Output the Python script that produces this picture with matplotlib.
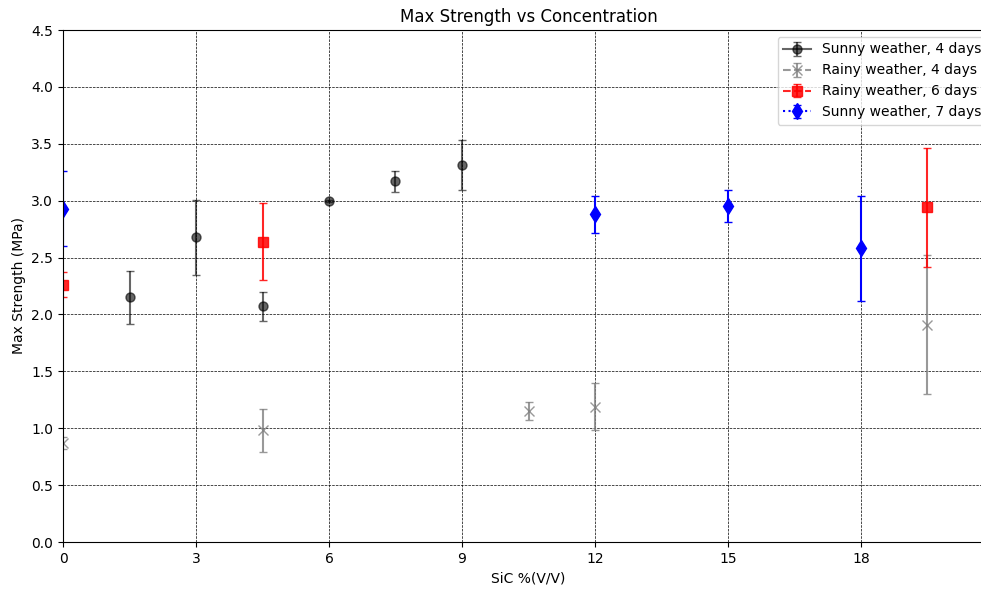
import matplotlib
matplotlib.use("Agg")
import matplotlib.pyplot as plt

# Sunny weather, 4 days
x_s4 = [1.5, 3, 4.5, 6, 7.5, 9]
y_s4 = [2.15, 2.68, 2.07, 3.00, 3.17, 3.31]
e_s4 = [0.23, 0.33, 0.13, 0.01, 0.09, 0.22]

# Rainy weather, 4 days
x_r4 = [0, 4.5, 10.5, 12, 19.5]
y_r4 = [0.87, 0.98, 1.15, 1.19, 1.91]
e_r4 = [0.05, 0.19, 0.08, 0.21, 0.61]

# Rainy weather, 6 days
x_r6 = [0, 4.5, 19.5]
y_r6 = [2.26, 2.64, 2.94]
e_r6 = [0.11, 0.34, 0.52]

# Sunny weather, 7 days
x_s7 = [0, 12, 15, 18]
y_s7 = [2.93, 2.88, 2.95, 2.58]
e_s7 = [0.33, 0.16, 0.14, 0.46]

series = [
    (x_s4, y_s4, e_s4, "Sunny weather, 4 days", dict(fmt="o-", color="black", alpha=0.6, markersize=6.5)),
    (x_r4, y_r4, e_r4, "Rainy weather, 4 days", dict(fmt="x--", color="gray", alpha=0.8, markersize=6.5)),
    (x_r6, y_r6, e_r6, "Rainy weather, 6 days", dict(fmt="s--", color="red", alpha=0.85, markersize=6.5)),
    (x_s7, y_s7, e_s7, "Sunny weather, 7 days", dict(fmt="d:", color="blue", markersize=8)),
]

fig = plt.figure(figsize=(9.81, 5.89), dpi=100)
ax = fig.add_axes([63 / 981, 47 / 589, 931 / 981, 512 / 589])

for xs, ys, es, label, kw in series:
    for i in range(len(xs)):
        ax.errorbar([xs[i]], [ys[i]], yerr=[es[i]], capsize=3,
                    label=label if i == 0 else None, **kw)

ax.set_xlim(0, 21)
ax.set_ylim(0, 4.5)
ax.set_xticks([0, 3, 6, 9, 12, 15, 18])
ax.set_yticks([0, 0.5, 1.0, 1.5, 2.0, 2.5, 3.0, 3.5, 4.0, 4.5])
ax.grid(color="black", linestyle="--", linewidth=0.5)
ax.set_axisbelow(True)
ax.set_title("Max Strength vs Concentration")
ax.set_xlabel("SiC %(V/V)")
ax.set_ylabel("Max Strength (MPa)")
ax.legend(loc="upper right")

fig.savefig("out.png", dpi=100)
